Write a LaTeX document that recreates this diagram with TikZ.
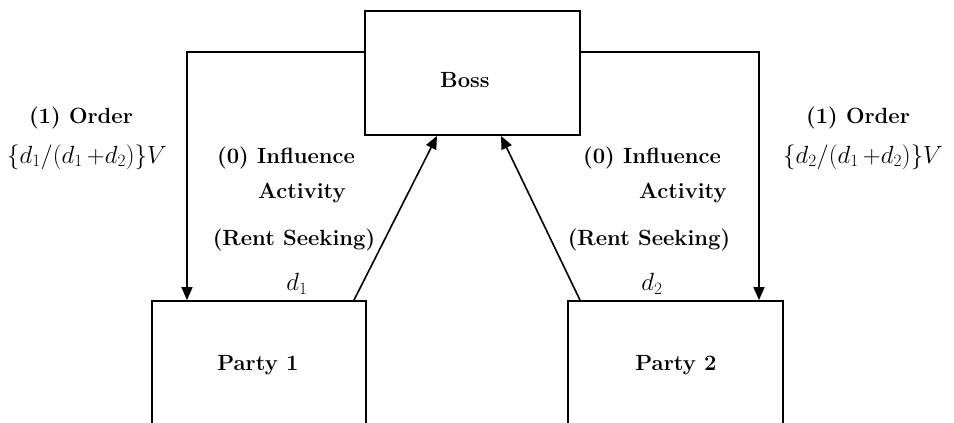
\documentclass[tikz,border=0pt]{standalone}
\usetikzlibrary{arrows.meta}
\begin{document}
\begin{tikzpicture}[x=1pt,y=-1pt,
  box/.style={draw,line width=1.8pt,inner sep=0pt},
  arr/.style={line width=1.6pt,-{Triangle[length=13pt,width=11pt]}},
  lbl/.style={inner sep=0pt,font=\fontsize{22}{26}\selectfont\bfseries},
  mth/.style={inner sep=0pt,font=\fontsize{25}{29}\selectfont}]
\clip (0,0) rectangle (954,423);
\node[box,minimum width=215pt,minimum height=124pt] (boss) at (472.5,73) {};
\node[lbl] (bosst) at (465,80) {Boss};
\node[box,minimum width=214pt,minimum height=128pt] (p1) at (259,365) {};
\node[lbl] (p1t) at (258,365) {Party 1};
\node[box,minimum width=215pt,minimum height=128pt] (p2) at (675.5,365) {};
\node[lbl] (p2t) at (676,365) {Party 2};
% orders
\draw[arr] (boss.west |- 0,52) -| (p1.north -| 187,0);
\draw[arr] (boss.east |- 0,52) -| (p2.north -| 759,0);
% influence
\draw[arr] (p1.north -| 354,0) -- (boss.south -| 437,0);
\draw[arr] (p2.north -| 580,0) -- (boss.south -| 501,0);
% labels left
\node[lbl] (o1) at (81,118) {(1) Order};
\node[mth] (f1) at (87,157) {$\{d_1/(d_1\,{+}d_2)\}V$};
\node[lbl] (i1) at (286,158) {(0) Influence};
\node[lbl] (a1) at (302,193) {Activity};
\node[lbl] (r1) at (294,240) {(Rent Seeking)};
\node[mth] (d1) at (297,284) {$d_1$};
% labels right
\node[lbl] (o2) at (858,118) {(1) Order};
\node[mth] (f2) at (863,157) {$\{d_2/(d_1\,{+}d_2)\}V$};
\node[lbl] (i2) at (652,158) {(0) Influence};
\node[lbl] (a2) at (683,193) {Activity};
\node[lbl] (r2) at (649,240) {(Rent Seeking)};
\node[mth] (d2) at (652,284) {$d_2$};
\end{tikzpicture}
\end{document}
